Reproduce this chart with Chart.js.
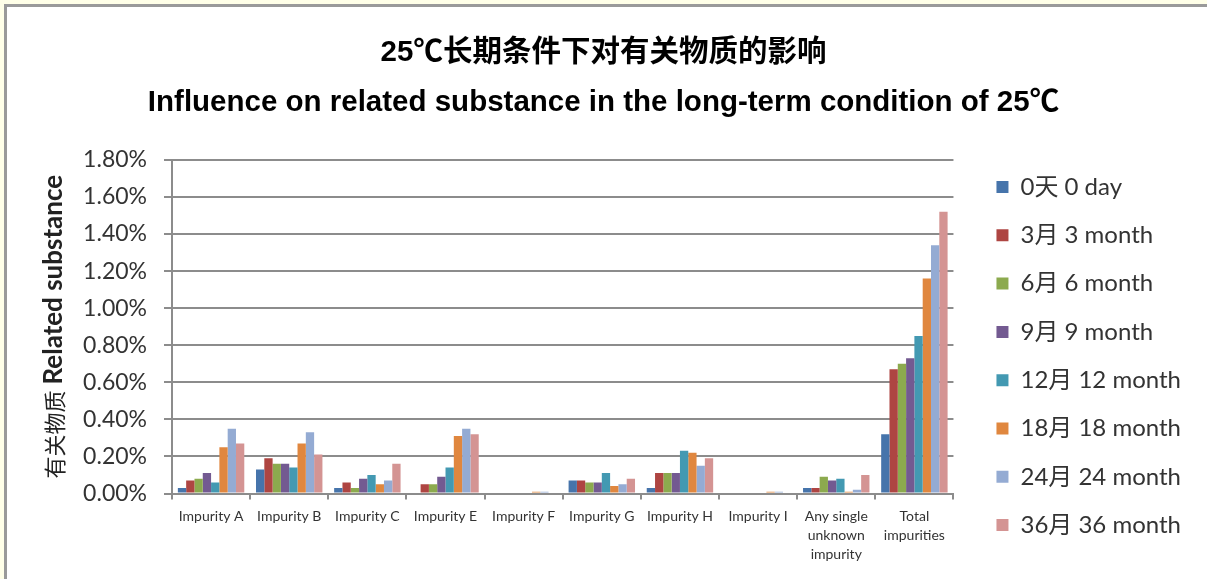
<!DOCTYPE html>
<html>
<head>
<meta charset="utf-8">
<script src="https://cdn.jsdelivr.net/npm/chart.js@4.4.1/dist/chart.umd.min.js"></script>
<style>
  html, body { margin: 0; padding: 0; width: 1207px; height: 579px; overflow: hidden; background: #FFFFE8; }
  #frame { position: absolute; left: 4px; top: 4px; width: 1220px; height: 600px;
           border-left: 3px solid #9a9a9a; border-top: 3px solid #9a9a9a; background: #ffffff; }
  #wrap { position: absolute; left: 0; top: 0; width: 1207px; height: 579px; }
</style>
</head>
<body>
<div id="frame"></div>
<div id="wrap"><canvas id="chart" width="1207" height="579"></canvas></div>
<script>
// Related substance content (%) at 25℃ long-term storage
const categories = [
  'Impurity A', 'Impurity B', 'Impurity C', 'Impurity E', 'Impurity F',
  'Impurity G', 'Impurity H', 'Impurity I',
  ['Any single', 'unknown', 'impurity'],
  ['Total', 'impurities']
];
const seriesNames = [
  '0天 0 day', '3月 3 month', '6月 6 month', '9月 9 month',
  '12月 12 month', '18月 18 month', '24月 24 month', '36月 36 month'
];
const day0     = [0.03, 0.13, 0.03, 0.00, 0.00, 0.07, 0.03, 0.00, 0.03, 0.32];
const month3   = [0.07, 0.19, 0.06, 0.05, 0.00, 0.07, 0.11, 0.00, 0.03, 0.67];
const month6   = [0.08, 0.16, 0.03, 0.05, 0.00, 0.06, 0.11, 0.00, 0.09, 0.70];
const month9   = [0.11, 0.16, 0.08, 0.09, 0.00, 0.06, 0.11, 0.00, 0.07, 0.73];
const month12  = [0.06, 0.14, 0.10, 0.14, 0.00, 0.11, 0.23, 0.00, 0.08, 0.85];
const month18  = [0.25, 0.27, 0.05, 0.31, 0.01, 0.04, 0.22, 0.01, 0.01, 1.16];
const month24  = [0.35, 0.33, 0.07, 0.35, 0.01, 0.05, 0.15, 0.01, 0.02, 1.34];
const month36  = [0.27, 0.21, 0.16, 0.32, 0.00, 0.08, 0.19, 0.00, 0.10, 1.52];
const yTicks   = [0, 0.2, 0.4, 0.6, 0.8, 1.0, 1.2, 1.4, 1.6, 1.8];

const titleCn = '25℃长期条件下对有关物质的影响';
const titleEn = 'Influence on related substance in the long-term condition of 25℃';
const yTitleCn = '有关物质';
const yTitleEn = 'Related substance';

const seriesValues = [day0, month3, month6, month9, month12, month18, month24, month36];
const seriesColors = ['#4674AB', '#AE4542', '#8CAA4E', '#735A91', '#4399B2', '#E0873F', '#94ABD3', '#D49493'];

const gridGray = '#8c8c8c';
const textColor = '#333333';
const latin = "Lato, 'Noto Sans CJK SC', sans-serif";
const titleFamily = "'Liberation Sans', 'Noto Sans CJK SC', sans-serif";

// rotated two-font axis title on the left
const yTitlePlugin = {
  id: 'yTitle',
  afterDraw(chart) {
    const { ctx, chartArea } = chart;
    const cy = (chartArea.top + chartArea.bottom) / 2;
    ctx.save();
    ctx.translate(54, cy);
    ctx.rotate(-Math.PI / 2);
    ctx.textBaseline = 'middle';
    ctx.textAlign = 'left';
    ctx.fillStyle = '#222';
    const fCn = "22px 'Noto Sans CJK SC'";
    const fEn = "bold 26px Lato";
    ctx.font = fCn; const w1 = ctx.measureText(yTitleCn).width;
    ctx.font = fEn; const w2 = ctx.measureText(yTitleEn).width;
    const gap = 6;
    const x = -(w1 + gap + w2) / 2;
    ctx.font = fCn; ctx.fillText(yTitleCn, x, 1);
    ctx.font = fEn; ctx.fillText(yTitleEn, x + w1 + gap, 0);
    ctx.restore();
  }
};

new Chart(document.getElementById('chart'), {
  type: 'bar',
  data: {
    labels: categories,
    datasets: seriesNames.map((name, i) => ({
      label: name,
      data: seriesValues[i],
      backgroundColor: seriesColors[i],
      borderWidth: 0,
      categoryPercentage: 0.85,
      barPercentage: 1.0
    }))
  },
  options: {
    responsive: false,
    animation: false,
    devicePixelRatio: 1,
    layout: { padding: { left: 16, right: 16, top: 0, bottom: 17.6 } },
    plugins: {
      title: {
        display: true, text: titleCn, color: '#000',
        font: { family: titleFamily, size: 29.5, weight: 'bold', lineHeight: 1.2 },
        padding: { top: 35, bottom: 0 }
      },
      subtitle: {
        display: true, text: titleEn, color: '#000',
        font: { family: titleFamily, size: 29.5, weight: 'bold', lineHeight: 1.2 },
        padding: { top: 14.6, bottom: 39.5 }
      },
      legend: {
        position: 'right', align: 'end',
        labels: { boxWidth: 12, boxHeight: 12, padding: 24.3, color: textColor,
                  font: { family: latin, size: 24 } }
      },
      tooltip: { enabled: false }
    },
    scales: {
      x: {
        grid: { display: true, drawOnChartArea: false, tickLength: 6, color: gridGray, lineWidth: 2 },
        border: { color: gridGray, width: 2 },
        ticks: { color: textColor, font: { family: latin, size: 14, lineHeight: 19 / 14 },
                 padding: 7, maxRotation: 0, minRotation: 0, autoSkip: false },
        afterFit(scale) { scale.height = 579 - 17.6 - 493.5; }
      },
      y: {
        min: 0, max: 1.8,
        afterBuildTicks(scale) { scale.ticks = yTicks.map(v => ({ value: v })); },
        ticks: { callback: v => Number(v).toFixed(2) + '%', color: textColor,
                 font: { family: latin, size: 23 }, padding: 17 },
        grid: { color: gridGray, lineWidth: 2, tickLength: 8 },
        border: { color: gridGray, width: 2 },
        afterFit(scale) { scale.width = 156; }
      },
      gap: {
        type: 'linear', position: 'right', display: false,
        afterFit(scale) { scale.width = 18.7; }
      }
    }
  },
  plugins: [yTitlePlugin]
});
</script>
</body>
</html>
